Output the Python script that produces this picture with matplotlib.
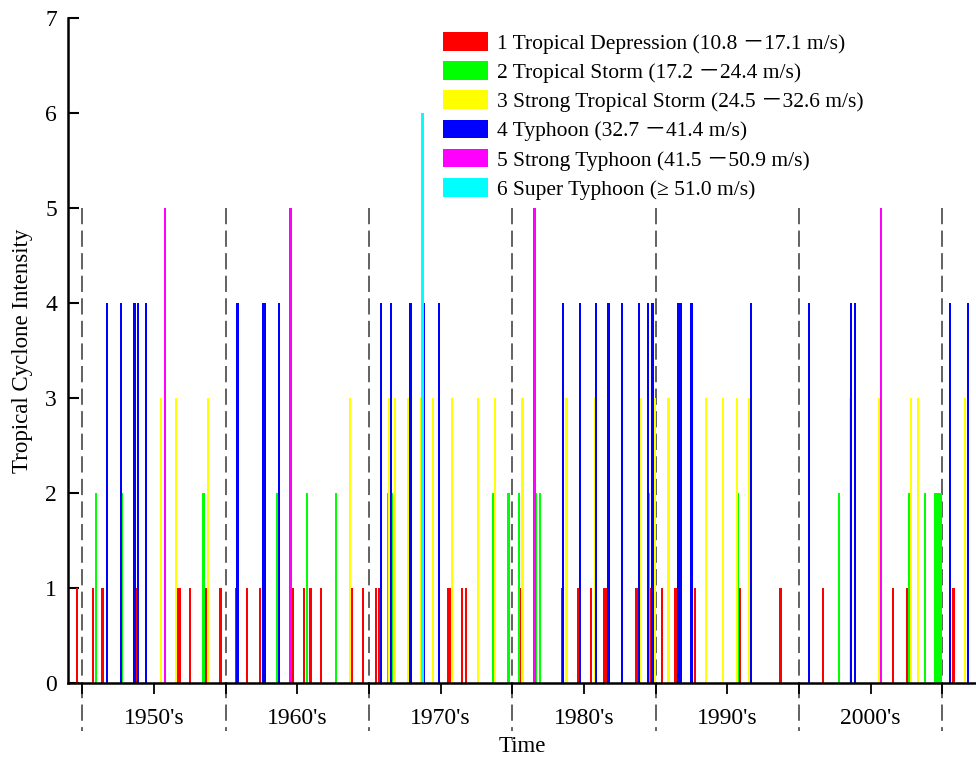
import matplotlib.pyplot as plt
import numpy as np

plt.rcParams['font.family'] = ['Liberation Serif', 'Noto Sans CJK SC', 'DejaVu Sans']

# event times (decimal year) for each intensity class
depression = [1949.62, 1950.74, 1951.40, 1953.77, 1956.67, 1956.79, 1957.51, 1958.65, 1959.63,
              1960.75, 1961.49, 1962.42, 1964.66, 1965.47, 1965.91, 1966.63, 1968.78, 1969.59,
              1970.51, 1970.70, 1975.52, 1975.64, 1976.50, 1976.75,
              1980.61, 1983.50, 1984.62, 1985.48, 1986.39, 1986.53, 1988.62, 1988.69, 1989.65,
              1990.43, 1991.38, 1992.74, 1995.88, 1998.72,
              2001.69, 2005.70, 2006.54, 2007.52, 2010.77]
storm = [1950.93, 1952.76, 1958.45, 1963.58, 1965.66, 1967.70,
         1971.33, 1971.61, 1978.64, 1979.73, 1980.47, 1981.66, 1981.92, 1989.56,
         1995.74, 2002.77, 2007.70, 2008.77, 2009.51, 2009.63, 2009.77, 2009.87]
strong_storm = [1955.51, 1956.53, 1958.75, 1968.66, 1971.40, 1971.80, 1972.73, 1973.66,
                1974.45, 1975.78, 1977.59, 1978.78, 1980.71, 1983.78, 1985.76, 1988.92, 1989.95,
                1990.89, 1993.53, 1994.69, 1995.67, 1996.53, 2003.56, 2005.60, 2007.80, 2008.31,
                2011.60]
typhoon = [1951.72, 1952.72, 1953.63, 1953.88, 1954.42, 1960.82, 1962.65, 1962.75, 1963.70,
           1970.84, 1971.52, 1972.89, 1973.84, 1974.87, 1983.55, 1984.71, 1985.83, 1986.71,
           1987.66, 1988.85, 1989.46, 1989.79, 1991.59, 1991.73, 1992.51, 1996.65,
           2000.72, 2003.63, 2003.91, 2010.56, 2011.77]
strong_typhoon = [1955.77, 1964.52, 1981.55, 2005.74]
super_typhoon = [1973.73]

levels = [1, 2, 3, 4, 5, 6]
colors = ['#ff0000', '#00ff00', '#ffff00', '#0000ff', '#ff00ff', '#00ffff']
labels = ['1 Tropical Depression (10.8 －17.1 m/s)',
          '2 Tropical Storm (17.2 －24.4 m/s)',
          '3 Strong Tropical Storm (24.5 －32.6 m/s)',
          '4 Typhoon (32.7 －41.4 m/s)',
          '5 Strong Typhoon (41.5 －50.9 m/s)',
          '6 Super Typhoon (≥ 51.0 m/s)']
decades = ["1950's", "1960's", "1970's", "1980's", "1990's", "2000's"]
decade_edges = [1950, 1960, 1970, 1980, 1990, 2000, 2010]

fig = plt.figure(figsize=(9.76, 7.6), dpi=100)
ax = fig.add_axes([68/976, 77/760, 1 - 68/976, 665/760])

groups = [depression, storm, strong_storm, typhoon, strong_typhoon, super_typhoon]
for times, lev, c, lab in zip(groups, levels, colors, labels):
    ax.bar(times, [lev]*len(times), width=0.16, color=c, linewidth=0, label=lab, zorder=2)

trans = ax.get_xaxis_transform()
for e in decade_edges:
    ax.plot([e, e], [5/7, -0.072], transform=trans, color='#555555', lw=1.3,
            dashes=(9, 3.5), clip_on=False, zorder=1)

ax.set_xlim(1949.0, 2012.35)
ax.set_ylim(0, 7)
ax.set_yticks(range(8))
ax.set_xticks([1955, 1965, 1975, 1985, 1995, 2005])
ax.set_xticklabels(decades)
ax.set_xticks(decade_edges, minor=True)
ax.tick_params(axis='x', which='both', direction='out', length=8, width=1.3, pad=10, labelsize=17)
ax.tick_params(axis='y', direction='in', length=8, width=1.5, pad=8, labelsize=17)

for s in ['top', 'right']:
    ax.spines[s].set_visible(False)
for s in ['left', 'bottom']:
    ax.spines[s].set_linewidth(1.8)

ax.set_xlabel('Time', fontsize=16.5, labelpad=5)
ax.set_ylabel('Tropical Cyclone Intensity', fontsize=16.5, labelpad=9)

ax.legend(loc='upper left', bbox_to_anchor=(443/976, 1 - 32/760), bbox_transform=fig.transFigure,
          frameon=False, fontsize=15.5, borderpad=0, borderaxespad=0,
          handlelength=2.1, handleheight=0.95, handletextpad=0.4, labelspacing=0.35)

fig.savefig('out.png', dpi=100)
